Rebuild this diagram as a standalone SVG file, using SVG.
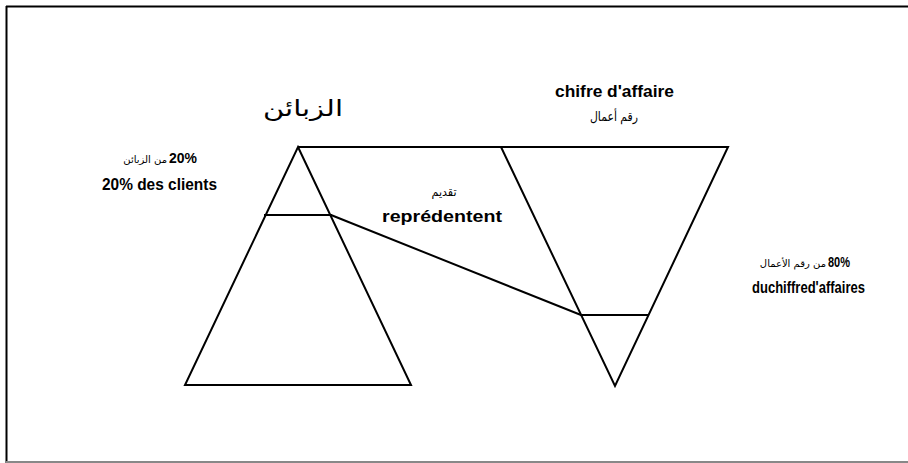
<svg xmlns="http://www.w3.org/2000/svg" width="908" height="463" viewBox="0 0 908 463">
<style>
.ln{fill:none;stroke:#000;stroke-width:2;stroke-linejoin:miter}
.b{font-family:"Liberation Sans",Arial,sans-serif;font-weight:bold;fill:#000}
.a{font-family:"DejaVu Sans","Noto Sans",sans-serif;fill:#000}
</style>
<rect width="908" height="463" fill="#fff"/>
<g id="frame">
<line x1="6" y1="6.5" x2="908" y2="6.5" stroke="#000" stroke-width="2"/>
<line x1="6.5" y1="6" x2="6.5" y2="463" stroke="#000" stroke-width="2"/>
<line x1="6" y1="462" x2="908" y2="462" stroke="#888" stroke-width="2"/>
</g>
<g id="clients-triangle">
<polygon class="ln" points="298,147 411,385 185,385"/>
<line class="ln" x1="264" y1="215" x2="332" y2="215"/>
</g>
<g id="revenue-triangle">
<polygon class="ln" points="501,147 728,147 615,386"/>
<line class="ln" x1="580" y1="315" x2="649" y2="315"/>
</g>
<g id="connectors">
<line class="ln" x1="298" y1="147" x2="501" y2="147"/>
<line class="ln" x1="331" y1="215" x2="581" y2="315"/>
</g>
<g id="label-clients">
<text class="a" x="303" y="116" font-size="22" text-anchor="middle" textLength="80" lengthAdjust="spacingAndGlyphs">الزبائن</text>
</g>
<g id="label-20">
<text class="a" x="167" y="163" font-size="10" text-anchor="end">من الزبائن</text>
<text class="b" x="169" y="163" font-size="14" textLength="28" lengthAdjust="spacingAndGlyphs">20%</text>
<text class="b" x="102" y="190" font-size="17" textLength="115" lengthAdjust="spacingAndGlyphs">20% des clients</text>
</g>
<g id="label-represent">
<text class="a" x="444" y="196" font-size="12" text-anchor="middle" textLength="25" lengthAdjust="spacingAndGlyphs">تقديم</text>
<text class="b" x="382" y="222" font-size="17" textLength="120" lengthAdjust="spacingAndGlyphs">reprédentent</text>
</g>
<g id="label-ca">
<text class="b" x="555" y="97" font-size="16" textLength="119" lengthAdjust="spacingAndGlyphs">chifre d'affaire</text>
<text class="a" x="614" y="121" font-size="13" text-anchor="middle" textLength="48" lengthAdjust="spacingAndGlyphs">رقم أعمال</text>
</g>
<g id="label-80">
<text class="a" x="826" y="267" font-size="10" text-anchor="end">من رقم الأعمال</text>
<text class="b" x="828" y="267" font-size="14" textLength="22" lengthAdjust="spacingAndGlyphs">80%</text>
<text class="b" x="752" y="293" font-size="16" textLength="113" lengthAdjust="spacingAndGlyphs">duchiffred'affaires</text>
</g>
</svg>
